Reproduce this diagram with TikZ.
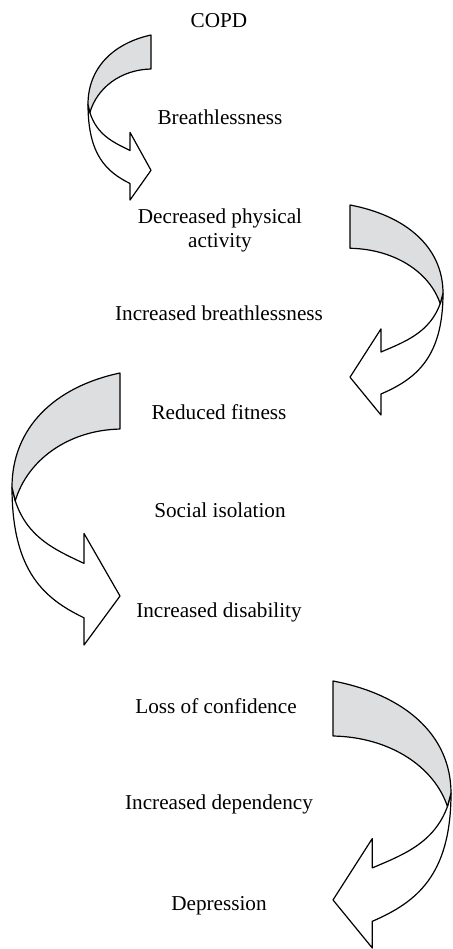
\documentclass[tikz,border=0pt]{standalone}
\usepackage{fontspec}
\setmainfont{Liberation Serif}
\definecolor{bandgray}{RGB}{221,222,224}

\begin{document}
\begin{tikzpicture}[x=0.5pt,y=-0.5pt,line join=round,
    stage/.style={anchor=base,inner sep=0pt,align=center,
      font=\fontsize{10.6}{12}\selectfont},
    bandback/.style={draw,fill=bandgray,line width=0.6pt},
    bandfront/.style={draw,fill=white,line width=0.6pt},
    bendarrow/.pic={
      \path[bandfront] (0,0.42) .. controls (0,0.73) and (0.3,0.83) .. (0.667,0.9)
        -- (0.667,1) -- (1,0.82) -- (0.667,0.59) -- (0.667,0.7)
        .. controls (0.4,0.65) and (0.143,0.606) .. (0.03,0.47) -- cycle;
      \path[bandback] (1,0) .. controls (0.4,0.05) and (0,0.2) .. (0,0.42)
        -- (0.03,0.47) .. controls (0.143,0.32) and (0.52,0.21) .. (1,0.206) -- cycle;
    }]

  \useasboundingbox (0,0) rectangle (452,949);

  % the four bent arrows
  \pic[xscale=63,yscale=165]   at (88,35)  {bendarrow};
  \pic[xscale=-93,yscale=210]  at (443,205) {bendarrow};
  \pic[xscale=108,yscale=272]  at (12,373)  {bendarrow};
  \pic[xscale=-118,yscale=267] at (451,681) {bendarrow};

  \node[stage] (copd)      at (219,27)  {COPD};
  \node[stage] (breath)    at (220,124) {Breathlessness};
  \node[stage] (activity)  at (220,247) {Decreased physical\\activity};
  \node[stage] (incbreath) at (219,320) {Increased breathlessness};
  \node[stage] (fitness)   at (219,419) {Reduced fitness};
  \node[stage] (isolation) at (220,517) {Social isolation};
  \node[stage] (disab)     at (219,617) {Increased disability};
  \node[stage] (confid)    at (216,713) {Loss of confidence};
  \node[stage] (depend)    at (219,809) {Increased dependency};
  \node[stage] (depress)   at (219,910) {Depression};
\end{tikzpicture}
\end{document}
